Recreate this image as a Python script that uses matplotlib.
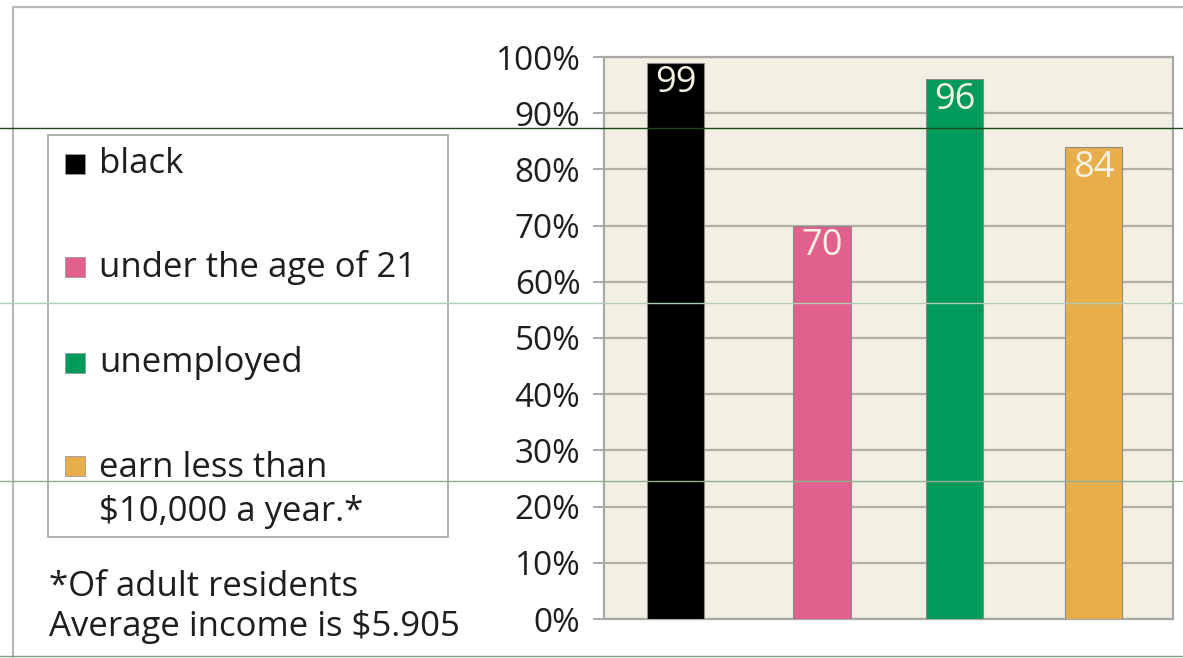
import matplotlib.pyplot as plt
from matplotlib.patches import Rectangle
from matplotlib.lines import Line2D

# --- data ---
categories = ['black', 'under the age of 21', 'unemployed', 'earn less than\n$10,000 a year.*']
values = [99, 70, 96, 84]
bar_colors = ['#000000', '#e1608e', '#009a5a', '#e9ae4c']
yticks = [0, 10, 20, 30, 40, 50, 60, 70, 80, 90, 100]
ytick_labels = [f'{t}%' for t in yticks]
footnote = '*Of adult residents\nAverage income is $5.905'

FONT = ['Open Sans', 'DejaVu Sans']
plt.rcParams['font.family'] = FONT
FS = 25

W, H = 1183, 658
fig = plt.figure(figsize=(W / 100, H / 100), dpi=100)


def fx(px):
    return px / W


def fy(py):
    return 1 - py / H


# plot area
ax = fig.add_axes([fx(604), fy(619), fx(1173 - 604), fy(57) - fy(619)])
ax.set_facecolor('#f3f0e3')

# bar slots are not quite evenly spaced in the original
xpos = [0, 1.05, 2, 3]
bars = ax.bar(xpos, values, width=0.41, color=bar_colors,
              edgecolor='#8a8a8a', linewidth=0.8, zorder=3)

for x, v in zip(xpos, values):
    ax.annotate(str(v), (x, v), xytext=(0, -2), textcoords='offset points',
                ha='center', va='top', fontsize=26, color='#f6f1e2', zorder=4)

ax.set_xlim(-0.515, 3.57)
ax.set_ylim(0, 100)
ax.set_yticks(yticks)
ax.set_yticklabels(ytick_labels, fontsize=24, color='#1e1e1e')
ax.set_xticks([])
ax.yaxis.grid(True, color='#b3afa6', linewidth=1.6, zorder=1)
ax.tick_params(axis='y', length=8, width=1.4, color='#a8a8a8', pad=9)
for s in ax.spines.values():
    s.set_color('#a8a8a8')
    s.set_linewidth(1.6)

# outer frame
fig.patches.append(Rectangle((fx(13), fy(700)), fx(1300), fy(7) - fy(700),
                             transform=fig.transFigure, fill=False,
                             edgecolor='#b8b8b8', linewidth=1.6))

# legend box
fig.patches.append(Rectangle((fx(48), fy(537)), fx(448 - 48), fy(135) - fy(537),
                             transform=fig.transFigure, fill=False,
                             edgecolor='#b0b0b0', linewidth=1.4))

legend_y = [164, 267, 363, 466]
for c, lab, py in zip(bar_colors, categories, legend_y):
    fig.patches.append(Rectangle((fx(65), fy(py + 10)), fx(20), fy(py - 10) - fy(py + 10),
                                 transform=fig.transFigure, facecolor=c,
                                 edgecolor='#9a9a9a', linewidth=0.6))
    if '\n' in lab:
        fig.text(fx(99), fy(py + 24), lab, fontsize=FS, color='#1e1e1e',
                 va='center', ha='left', linespacing=1.4)
    else:
        fig.text(fx(99), fy(py), lab, fontsize=FS, color='#1e1e1e',
                 va='center', ha='left')

fig.text(fx(49), fy(607), footnote, fontsize=FS, color='#1e1e1e',
         ha='left', va='center', linespacing=1.2)

# scan lines across the picture
for py, col in [(128, '#1c4a1c'), (303, '#b3cbb3'), (481, '#8fae8f'), (656, '#7f9f7f')]:
    fig.lines.append(Line2D([0, 1], [fy(py), fy(py)], transform=fig.transFigure,
                            color=col, linewidth=1.0))

fig.savefig('out.png', dpi=100)
